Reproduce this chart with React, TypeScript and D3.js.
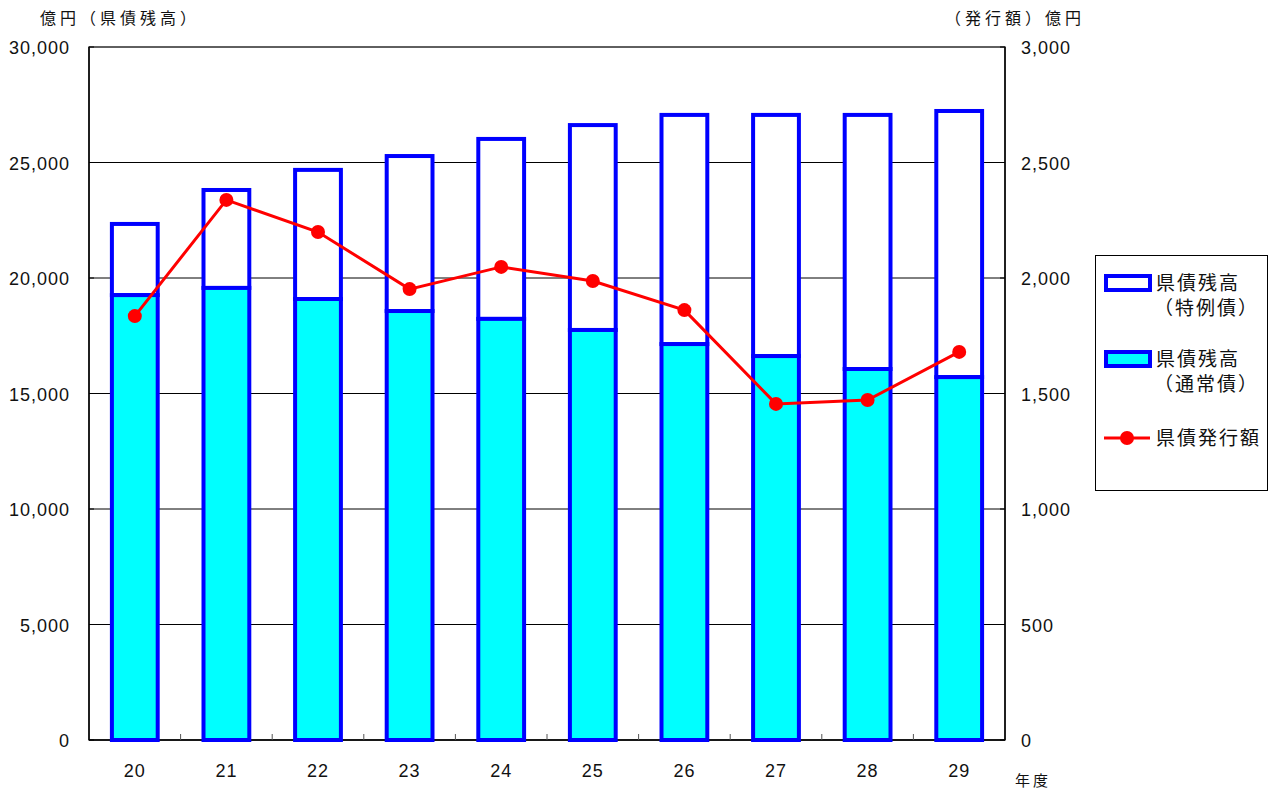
import React from 'react';
import * as d3 from 'd3';

const years = ['20', '21', '22', '23', '24', '25', '26', '27', '28', '29'];
const ordinaryDebt = [19260, 19570, 19090, 18570, 18230, 17750, 17140, 16620, 16060, 15710];
const specialDebt = [3080, 4240, 5590, 6710, 7790, 8870, 9920, 10440, 11000, 11520];
const issuance = [1835, 2338, 2199, 1952, 2048, 1987, 1861, 1455, 1472, 1680];
const leftTicks = [0, 5000, 10000, 15000, 20000, 25000, 30000];
const rightTicks = [0, 500, 1000, 1500, 2000, 2500, 3000];

const width = 1270;
const height = 790;
const margin = { top: 47, right: 265, bottom: 50, left: 89 };
const jp = '"Noto Sans CJK JP", sans-serif';
const num = '"Liberation Sans", Arial, sans-serif';
const blue = '#0000ff';
const cyan = '#00ffff';
const red = '#ff0000';

export default function App() {
  const x0 = margin.left;
  const x1 = width - margin.right;
  const y0 = height - margin.bottom;
  const y1 = margin.top;

  const x = d3.scaleBand().domain(years).range([x0, x1]).paddingInner(0.5).paddingOuter(0.25);
  const yL = d3.scaleLinear().domain([0, 30000]).range([y0, y1]);
  const yR = d3.scaleLinear().domain([0, 3000]).range([y0, y1]);
  const fmt = d3.format(',');
  const cx = (i: number) => (x(years[i]) as number) + x.bandwidth() / 2;

  const line = d3.line<number>()
    .x((_, i) => cx(i))
    .y(d => yR(d));

  const catW = (x1 - x0) / years.length;

  return (
    <svg width={width} height={height} style={{ position: 'absolute', left: 0, top: 0 }}>
      <rect x={0} y={0} width={width} height={height} fill="#fff" />
      {/* grid */}
      {leftTicks.map(t => (
        <line key={t} x1={x0} x2={x1} y1={yL(t)} y2={yL(t)} stroke="#000" strokeWidth={1} />
      ))}
      {/* plot border */}
      <rect x={x0} y={y1} width={x1 - x0} height={y0 - y1} fill="none" stroke="#555" strokeWidth={1.5} />
      <line x1={x0} x2={x0} y1={y1} y2={y0} stroke="#000" strokeWidth={1.5} />
      <line x1={x1} x2={x1} y1={y1} y2={y0} stroke="#000" strokeWidth={1.5} />
      <line x1={x0} x2={x1} y1={y0} y2={y0} stroke="#000" strokeWidth={1.5} />
      {/* axis ticks */}
      {leftTicks.map(t => (
        <g key={'l' + t}>
          <line x1={x0} x2={x0 + 5} y1={yL(t)} y2={yL(t)} stroke="#000" />
          <text x={70} y={yL(t) + 7} textAnchor="end" fontFamily={num} fontSize={18} letterSpacing={1} fill="#111">{fmt(t)}</text>
        </g>
      ))}
      {rightTicks.map(t => (
        <g key={'r' + t}>
          <line x1={x1 - 5} x2={x1} y1={yR(t)} y2={yR(t)} stroke="#000" />
          <text x={1021} y={yR(t) + 7} textAnchor="start" fontFamily={num} fontSize={18} letterSpacing={1} fill="#111">{fmt(t)}</text>
        </g>
      ))}
      {years.slice(1).map((yr, i) => {
        const xx = x0 + (i + 1) * catW;
        return <line key={'t' + yr} x1={xx} x2={xx} y1={y0} y2={y0 - 6} stroke="#555" />;
      })}
      {/* bars */}
      {years.map((yr, i) => {
        const bx = x(yr) as number;
        const w = x.bandwidth();
        const top = ordinaryDebt[i] + specialDebt[i];
        return (
          <g key={yr}>
            <rect x={bx} y={yL(top)} width={w} height={yL(ordinaryDebt[i]) - yL(top)} fill="#fff" stroke={blue} strokeWidth={4} />
            <rect x={bx} y={yL(ordinaryDebt[i])} width={w} height={y0 - yL(ordinaryDebt[i])} fill={cyan} stroke={blue} strokeWidth={4} />
          </g>
        );
      })}
      {/* line */}
      <path d={line(issuance) || ''} fill="none" stroke={red} strokeWidth={3} />
      {issuance.map((v, i) => (
        <circle key={i} cx={cx(i)} cy={yR(v)} r={7} fill={red} />
      ))}
      {/* x labels */}
      {years.map((yr, i) => (
        <text key={'x' + yr} x={cx(i)} y={777} textAnchor="middle" fontFamily={num} fontSize={18} letterSpacing={1} fill="#111">{yr}</text>
      ))}
      <text x={1015} y={786} fontFamily={jp} fontSize={15} letterSpacing={3} fill="#111">年度</text>
      <text x={40} y={24} fontFamily={jp} fontSize={16} letterSpacing={4} fill="#111">億円（県債残高）</text>
      <text x={1085} y={24} textAnchor="end" fontFamily={jp} fontSize={16} letterSpacing={4} fill="#111">（発行額）億円</text>
      {/* legend */}
      <rect x={1095.5} y={255.5} width={172} height={235} fill="#fff" stroke="#000" strokeWidth={1} />
      <rect x={1106} y={276} width={44} height={14} fill="#fff" stroke={blue} strokeWidth={4} />
      <text x={1156} y={290} fontFamily={jp} fontSize={19} letterSpacing={2} fill="#111">県債残高</text>
      <text x={1154} y={315} fontFamily={jp} fontSize={19} letterSpacing={2} fill="#111">（特例債）</text>
      <rect x={1106} y={352} width={44} height={14} fill={cyan} stroke={blue} strokeWidth={4} />
      <text x={1156} y={366} fontFamily={jp} fontSize={19} letterSpacing={2} fill="#111">県債残高</text>
      <text x={1154} y={391} fontFamily={jp} fontSize={19} letterSpacing={2} fill="#111">（通常債）</text>
      <line x1={1104} x2={1150} y1={438} y2={438} stroke={red} strokeWidth={3} />
      <circle cx={1127} cy={438} r={7} fill={red} />
      <text x={1156} y={445} fontFamily={jp} fontSize={19} letterSpacing={2} fill="#111">県債発行額</text>
    </svg>
  );
}
